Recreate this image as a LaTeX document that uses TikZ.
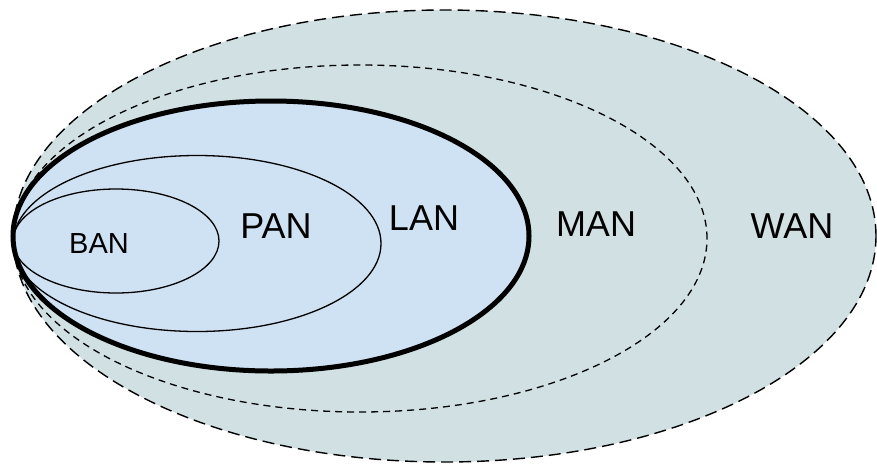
\documentclass[tikz,border=0pt]{standalone}
\usepackage{fontspec}
\setmainfont{Liberation Sans}
\definecolor{wanfill}{HTML}{D0E0E3}
\definecolor{lanfill}{HTML}{CFE2F3}
\tikzset{
  netlabel/.style={inner sep=0pt, font=\fontsize{36}{40}\selectfont},
}
\begin{document}
\begin{tikzpicture}[x=1pt, y=-1pt]
  \useasboundingbox (0, 0) rectangle (877, 464);
  \fill[white] (0, 0) rectangle (877, 464);
  % WAN and MAN
  \draw[fill=wanfill, line width=1.4pt, dash pattern=on 12pt off 6pt]
    (444.5, 236) ellipse [x radius=431.5pt, y radius=226pt];
  \draw[line width=1.3pt, dash pattern=on 7pt off 5pt]
    (360, 238.5) ellipse [x radius=347pt, y radius=173.5pt];
  % LAN, PAN and BAN
  \draw[fill=lanfill, line width=5pt] (271, 236) ellipse [x radius=258pt, y radius=135pt];
  \draw[line width=1.3pt] (197, 243.5) ellipse [x radius=184pt, y radius=88pt];
  \draw[line width=1.3pt] (116, 241) ellipse [x radius=103pt, y radius=52pt];
  \node[netlabel, font=\fontsize{29}{32}\selectfont] (ban) at (99, 243.5) {BAN};
  \node[netlabel] (pan) at (276, 226) {PAN};
  \node[netlabel] (lan) at (424, 218) {LAN};
  \node[netlabel] (man) at (596, 224) {MAN};
  \node[netlabel] (wan) at (792, 226) {WAN};
\end{tikzpicture}
\end{document}
